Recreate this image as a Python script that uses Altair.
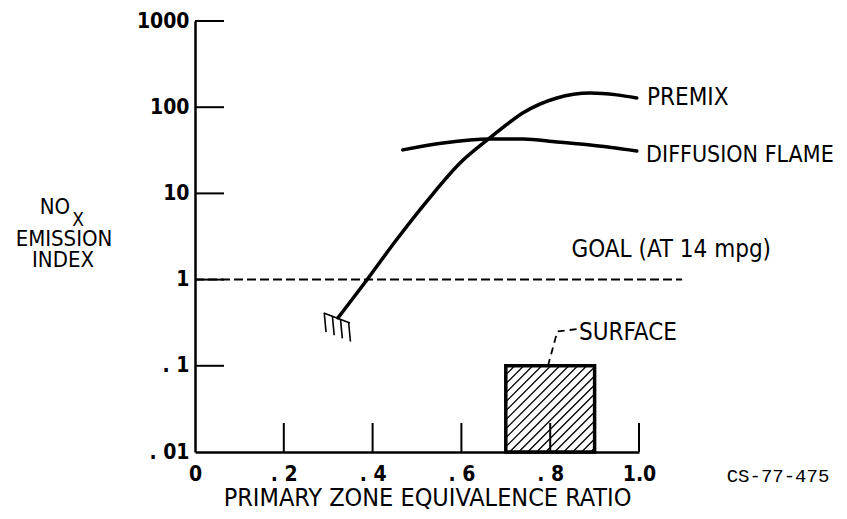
import altair as alt
import numpy as np
import pandas as pd

# ---------------- data ----------------
premix_x = [0.322, 0.387, 0.450, 0.523, 0.597, 0.664, 0.709, 0.739, 0.815, 0.890, 0.950, 0.995]
premix_y = [0.36, 0.99, 2.73, 8.2, 22.5, 44.0, 67.0, 86.0, 128.0, 146.0, 139.0, 128.0]

diffusion_x = [0.468, 0.559, 0.664, 0.739, 0.815, 0.890, 0.995]
diffusion_y = [32.0, 38.5, 42.8, 42.8, 39.5, 36.4, 31.1]

goal_x = [0.0, 1.097]
goal_y = 1.0

surface_x = [0.7, 0.9]
surface_y = [0.01, 0.1]

x_ticks = [0.0, 0.2, 0.4, 0.6, 0.8, 1.0]
x_labels = ["0", ". 2", ". 4", ". 6", ". 8", "1.0"]
y_ticks = [0.01, 0.1, 1, 10, 100, 1000]
y_labels = [". 01", ". 1", "1", "10", "100", "1000"]

# ---------------- layout ----------------
W, H = 444, 431
X_MIN, X_MAX = 0.0, 1.0
Y_MIN, Y_MAX = 0.01, 1000.0
PX_PER_X = W / (X_MAX - X_MIN)
PX_PER_DEC = H / (np.log10(Y_MAX) - np.log10(Y_MIN))
TICK = 29

SANS = "'Liberation Sans Narrow', 'DejaVu Sans Condensed', 'Roboto Condensed', 'Liberation Sans', sans-serif"
MONO = "'Liberation Mono', 'DejaVu Sans Mono', monospace"

xs = alt.Scale(domain=[X_MIN, X_MAX], nice=False, zero=False)
ys = alt.Scale(type="log", domain=[Y_MIN, Y_MAX], nice=False)


def label_expr(vals, labels):
    expr = "''"
    for v, l in reversed(list(zip(vals, labels))):
        expr = f"abs(datum.value - {v}) < {abs(v) * 1e-6 + 1e-9} ? '{l}' : " + expr
    return expr


# inner ticks (drawn inward from the axes)
xt = [v for v in x_ticks if v > X_MIN]
xtick_df = pd.DataFrame({"x": xt, "y": [Y_MIN] * len(xt),
                         "y2": [Y_MIN * 10 ** (TICK / PX_PER_DEC)] * len(xt)})
yt = [v for v in y_ticks if v > Y_MIN]
ytick_df = pd.DataFrame({"y": yt, "x": [X_MIN] * len(yt), "x2": [X_MIN + TICK / PX_PER_X] * len(yt)})

# hatching of the SURFACE block (45 degree lines in screen space)
X0, X1 = surface_x[0] * PX_PER_X, surface_x[1] * PX_PER_X
Y0, Y1 = np.log10(surface_y[0]) * PX_PER_DEC, np.log10(surface_y[1]) * PX_PER_DEC
hx, hx2, hy, hy2 = [], [], [], []
for c in np.arange(Y0 - X1 + 4, Y1 - X0, 9.0):
    a = max(X0, Y0 - c)
    b = min(X1, Y1 - c)
    if b - a > 1:
        hx.append(a / PX_PER_X)
        hx2.append(b / PX_PER_X)
        hy.append(10 ** ((a + c) / PX_PER_DEC))
        hy2.append(10 ** ((b + c) / PX_PER_DEC))
hatch_df = pd.DataFrame({"x": hx, "x2": hx2, "y": hy, "y2": hy2})

# "stop" comb at the lean end of the premix curve
bar_x = [0.290, 0.349]
bar_y = [0.41, 0.314]
teeth_t = [0.02, 0.33, 0.64, 0.95]
comb_rows = [{"x": bar_x[0], "y": bar_y[0], "x2": bar_x[1], "y2": bar_y[1]}]
for t in teeth_t:
    tx = bar_x[0] + t * (bar_x[1] - bar_x[0])
    ty = 10 ** (np.log10(bar_y[0]) + t * (np.log10(bar_y[1]) - np.log10(bar_y[0])))
    comb_rows.append({"x": tx, "y": ty, "x2": tx + 0.004, "y2": ty / 10 ** (19 / PX_PER_DEC)})
comb_df = pd.DataFrame(comb_rows)

premix_df = pd.DataFrame({"x": premix_x, "y": premix_y})
diff_df = pd.DataFrame({"x": diffusion_x, "y": diffusion_y})
goal_df = pd.DataFrame({"x": [goal_x[0]], "x2": [goal_x[1]], "y": [goal_y]})
surf_df = pd.DataFrame({"x": [surface_x[0]], "x2": [surface_x[1]],
                        "y": [surface_y[0]], "y2": [surface_y[1]]})
leader_df = pd.DataFrame({"x": [0.795, 0.816, 0.862], "y": [0.1, 0.25, 0.267], "o": [0, 1, 2]})

X = lambda **kw: alt.X("x:Q", scale=xs, **kw)
Y = lambda **kw: alt.Y("y:Q", scale=ys, **kw)

x_axis = alt.Axis(values=x_ticks, labelExpr=label_expr(x_ticks, x_labels), ticks=False, grid=False,
                  domainColor="black", domainWidth=2.5, labelColor="black", labelFont=SANS,
                  labelFontSize=21, labelFontWeight="bold", labelPadding=11, labelFlush=False,
                  title="PRIMARY ZONE EQUIVALENCE RATIO", titleFont=SANS, titleFontSize=25,
                  titleFontWeight="normal", titleColor="black", titleX=232, titleY=53,
                  titleBaseline="alphabetic", zindex=1)
y_axis = alt.Axis(values=y_ticks, labelExpr=label_expr(y_ticks, y_labels), ticks=False, grid=False,
                  domainColor="black", domainWidth=2.5, labelColor="black", labelFont=SANS,
                  labelFontSize=21, labelFontWeight="bold", labelPadding=6, labelFlush=False,
                  title=None, zindex=1)

premix = alt.Chart(premix_df).mark_line(color="black", strokeWidth=3.5, interpolate="monotone",
                                        strokeCap="round").encode(X(axis=x_axis), Y(axis=y_axis))
diffusion = alt.Chart(diff_df).mark_line(color="black", strokeWidth=3.5, interpolate="monotone",
                                         strokeCap="round").encode(X(), Y())

hatch = alt.Chart(hatch_df).mark_rule(color="black", strokeWidth=1.3).encode(
    X(), Y(), x2="x2:Q", y2="y2:Q")
surface = alt.Chart(surf_df).mark_rect(fillOpacity=0, stroke="black", strokeWidth=3.5).encode(
    X(), Y(), x2="x2:Q", y2="y2:Q")
xticks = alt.Chart(xtick_df).mark_rule(color="black", strokeWidth=2).encode(X(), Y(), y2="y2:Q")
yticks = alt.Chart(ytick_df).mark_rule(color="black", strokeWidth=2).encode(X(), Y(), x2="x2:Q")
goal = alt.Chart(goal_df).mark_rule(color="black", strokeWidth=2, strokeDash=[9, 4]).encode(
    X(), Y(), x2="x2:Q")
comb = alt.Chart(comb_df).mark_rule(color="black", strokeWidth=1.6).encode(X(), Y(), x2="x2:Q", y2="y2:Q")
leader = alt.Chart(leader_df).mark_line(color="black", strokeWidth=1.8, strokeDash=[7, 5]).encode(
    X(), Y(), order="o:Q")


def label(text, x, y, size=24, align="left", font=SANS, weight="normal"):
    return alt.Chart(pd.DataFrame({"t": [text]})).mark_text(
        font=font, fontSize=size, fontWeight=weight, align=align, baseline="middle", color="black"
    ).encode(x=x, y=y, text="t:N")


texts = [
    label("PREMIX", alt.datum(1.018), alt.datum(128)),
    label("DIFFUSION FLAME", alt.datum(1.016), alt.datum(28), size=23),
    label("GOAL (AT 14 mpg)", alt.datum(0.848), alt.datum(2.2)),
    label("SURFACE", alt.datum(0.865), alt.datum(0.24)),
    label("CS-77-475", alt.value(527 + 56), alt.value(455), size=19, align="center", font=MONO),
    label("NO", alt.value(-140), alt.value(186), size=22, align="center"),
    label("X", alt.value(-117), alt.value(199), size=19, align="center"),
    label("EMISSION", alt.value(-131), alt.value(218), size=22, align="center"),
    label("INDEX", alt.value(-132), alt.value(239), size=22, align="center"),
]

chart = alt.layer(
    hatch, surface, xticks, yticks, goal, diffusion, premix, comb, leader, *texts
).resolve_scale(x="shared", y="shared").properties(
    width=W, height=H,
    autosize=alt.AutoSizeParams(type="none"),
    padding={"left": 187, "top": 13, "right": 200, "bottom": 59},
    background="white",
).configure_view(stroke=None)

chart.save("out.html", embed_options={"renderer": "svg", "actions": False})
